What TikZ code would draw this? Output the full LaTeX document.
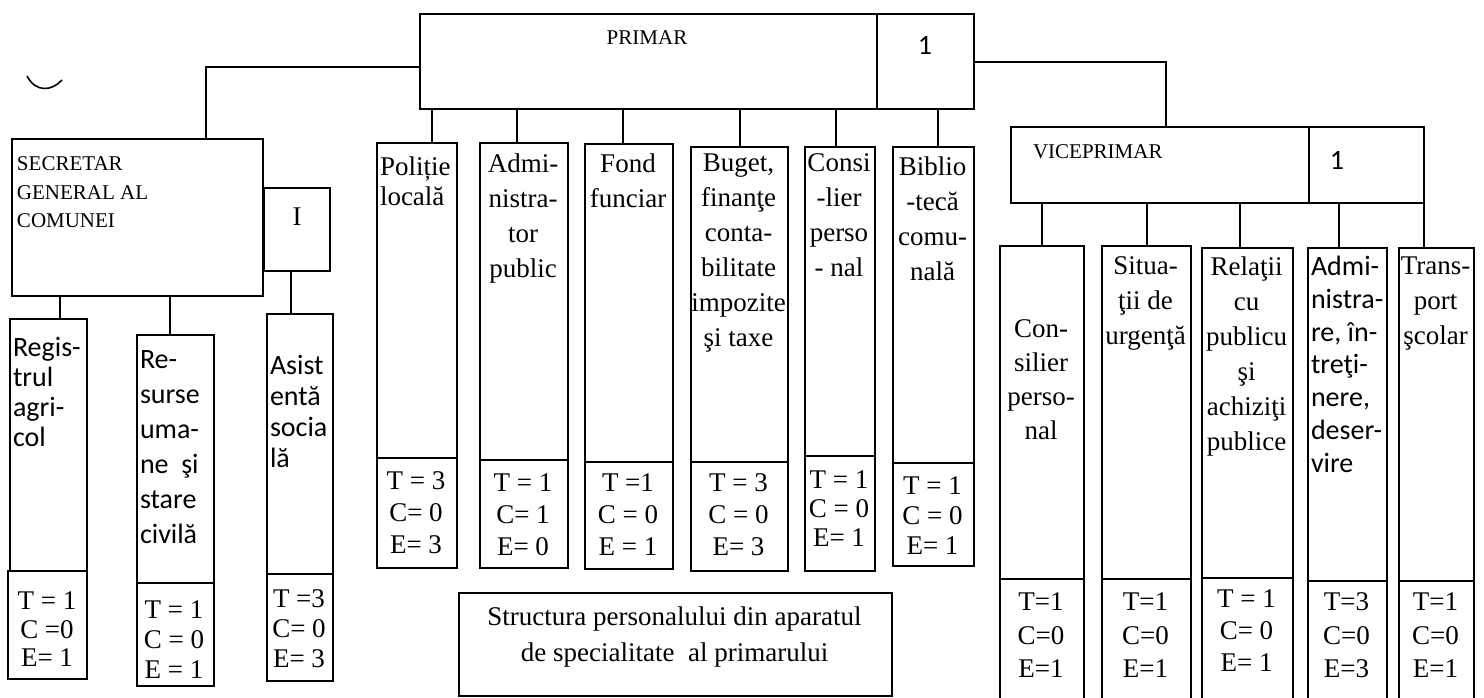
\documentclass[tikz,border=0pt]{standalone}
\usepackage{fontspec}
\setmainfont{Liberation Serif}
\newfontfamily\calib{Carlito}
\usetikzlibrary{positioning}

\begin{document}
\begin{tikzpicture}[
      x=0.5pt,y=-0.5pt,line width=1pt,
      every node/.style={inner sep=0pt},
      box/.style 2 args={draw,anchor=north west,minimum width=#1*0.5pt,minimum height=#2*0.5pt},
      txt/.style={anchor=north,align=center,execute at begin node=\strut},
      ltxt/.style={anchor=north west,align=left,execute at begin node=\strut},
      fs/.style={font=\fontsize{13.5}{#1}\selectfont},
      ss/.style={font=\calib\fontsize{14}{#1}\selectfont},
      hd/.style={font=\fontsize{10.5}{#1}\selectfont},
      ]

      \useasboundingbox (0,0) rectangle (1484,697);
      \clip (0,0) rectangle (1484,697);

      % head boxes
      \node[box={457}{95}] (primar) at (419,13) {};
      \node[box={97}{95}] (primar_1) at (876,13) {};
      \node[hd=12] (primar_t) at (647,38) {PRIMAR};
      \node[font=\calib\fontsize{14}{16}\selectfont] (primar_1t) at (925,45) {1};

      \node[box={298}{76}] (vice) at (1010,126) {};
      \node[box={115}{76}] (vice_1) at (1308,126) {};
      \node[hd=12,anchor=west] (vice_t) at (1032,152) {VICEPRIMAR};
      \node[font=\calib\fontsize{14}{16}\selectfont] (vice_1t) at (1337,160) {1};

      \node[box={251}{157}] (secr) at (11,138) {};
      \node[box={66}{83}] (secr_1) at (263,187) {};
      \node[ltxt,hd=14.25] (secr_t) at (16,156) {SECRETAR\\GENERAL AL\\COMUNEI};
      \node[fs=14] (secr_1t) at (297,217) {I};

      % secretar
      \node[box={77}{252}] (regis) at (9,318) {};
      \node[box={79}{108}] (regis_n) at (7,570) {};
      \node[ltxt,ss=15] (regis_t) at (12,336) {Regis-\\trul\\agri-\\col};
      \node[txt,fs=14.25] (regis_v) at (47,591) {T = 1\\C =0\\E= 1};

      \node[box={77}{248}] (resurse) at (136,334) {};
      \node[box={77}{103}] (resurse_n) at (136,582) {};
      \node[ltxt,ss=17.5] (resurse_t) at (139,350) {Re-\\surse\\uma-\\ne\ \ şi\\stare\\civilă};
      \node[txt,fs=15] (resurse_v) at (174,600) {T = 1\\C = 0\\E = 1};

      \node[box={66}{260}] (asist) at (266,313) {};
      \node[box={66}{107}] (asist_n) at (266,573) {};
      \node[ltxt,ss=15.5] (asist_t) at (269,354) {Asist\\entă\\socia\\lă};
      \node[txt,fs=15] (asist_v) at (299,589) {T =3\\C= 0\\E= 3};

      % primar
      \node[box={80}{315}] (pol) at (376,142) {};
      \node[box={80}{110}] (pol_n) at (376,457) {};
      \node[ltxt,fs=15] (pol_t) at (379,156) {Poliție\\locală};
      \node[txt,fs=16] (pol_v) at (416,471) {T = 3\\C= 0\\E= 3};

      \node[box={88}{317}] (adm) at (479,142) {};
      \node[box={88}{108}] (adm_n) at (479,459) {};
      \node[txt,fs=17.5] (adm_t) at (523,152.5) {Admi-\\nistra-\\tor\\public};
      \node[txt,fs=16] (adm_v) at (523,473) {T = 1\\C= 1\\E= 0};

      \node[box={88}{318}] (fond) at (584,143) {};
      \node[box={88}{107}] (fond_n) at (584,461) {};
      \node[txt,fs=17.5] (fond_t) at (628,152.5) {Fond\\funciar};
      \node[txt,fs=16] (fond_v) at (628,473) {T =1\\C = 0\\E = 1};

      \node[box={97}{315}] (buget) at (690,146) {};
      \node[box={97}{109}] (buget_n) at (690,461) {};
      \node[txt,fs=17.5] (buget_t) at (738.5,152.5) {Buget,\\finanţe\\conta-\\bilitate\\impozite\\şi taxe};
      \node[txt,fs=16] (buget_v) at (738.5,473) {T = 3\\C = 0\\E= 3};

      \node[box={70}{309}] (consi) at (804,146) {};
      \node[box={70}{115}] (consi_n) at (804,455) {};
      \node[txt,fs=17.5] (consi_t) at (839,152.5) {Consi\\-lier\\perso\\- nal};
      \node[txt,fs=14.5] (consi_v) at (839,470) {T = 1\\C = 0\\E= 1};

      \node[box={81}{316}] (biblio) at (892,146) {};
      \node[box={81}{103}] (biblio_n) at (892,462) {};
      \node[txt,fs=17.5] (biblio_t) at (932.5,155.5) {Biblio\\-tecă\\comu-\\nală};
      \node[txt,fs=15] (biblio_v) at (932.5,476) {T = 1\\C = 0\\E= 1};

      \node[box={433}{103}] (struct) at (458,592) {};
      \node[txt,fs=18] (struct_t) at (674.5,606) {Structura personalului din aparatul\\de specialitate\ \ al primarului};

      % viceprimar
      \node[box={84}{333}] (con) at (999,245) {};
      \node[box={84}{130}] (con_n) at (999,578) {};
      \node[txt,fs=17] (con_t) at (1041,319) {Con-\\silier\\perso-\\nal};
      \node[txt,fs=16.75] (con_v) at (1041,592) {T=1\\C=0\\E=1};

      \node[box={89}{333}] (situa) at (1101,245) {};
      \node[box={89}{130}] (situa_n) at (1101,578) {};
      \node[txt,fs=17.5] (situa_t) at (1145.5,256) {Situa-\\ţii de\\urgenţă};
      \node[txt,fs=16.75] (situa_v) at (1145.5,592) {T=1\\C=0\\E=1};

      \node[box={91}{330}] (relatii) at (1201,247) {};
      \node[box={91}{131}] (relatii_n) at (1201,577) {};
      \node[txt,fs=17.5] (relatii_t) at (1246.5,256) {Relaţii\\cu\\publicu\\şi\\achiziţi\\publice};
      \node[txt,fs=16] (relatii_v) at (1246.5,589) {T = 1\\C= 0\\E= 1};

      \node[box={79}{333}] (admi) at (1307,247) {};
      \node[box={79}{128}] (admi_n) at (1307,580) {};
      \node[ltxt,ss=16.4] (admi_t) at (1310,255) {Admi-\\nistra-\\re, în-\\treţi-\\nere,\\deser-\\vire};
      \node[txt,fs=16.75] (admi_v) at (1346.5,592) {T=3\\C=0\\E=3};

      \node[box={75}{333}] (trans) at (1398,247) {};
      \node[box={75}{128}] (trans_n) at (1398,580) {};
      \node[txt,fs=17.5] (trans_t) at (1435.5,256) {Trans-\\port\\şcolar};
      \node[txt,fs=16.75] (trans_v) at (1435.5,592) {T=1\\C=0\\E=1};

      % connectors
      \draw ([yshift=-2.5pt]primar.west) -| ([xshift=34.25pt]secr.north);
      \draw (primar_1.east) -| ([xshift=3pt]vice.north);
      \draw ([xshift=5.75pt]regis.north) -- ([xshift=5.75pt]regis.north |- secr.south);
      \draw ([xshift=-2.75pt]resurse.north) -- ([xshift=-2.75pt]resurse.north |- secr.south);
      \draw ([xshift=-4.5pt]asist.north) -- ([xshift=-4.5pt]asist.north |- secr_1.south);
      \foreach \b/\s in {pol/7.5pt,adm/-3.5pt,fond/-3pt,buget/0pt,consi/-2pt,biblio/2.25pt}
        \draw ([xshift=\s]\b.north) -- ([xshift=\s]\b.north |- primar.south);
      \foreach \b/\s in {con/0pt,situa/0pt,relatii/-3.75pt,admi/-4.25pt,trans/-6.25pt}
        \draw ([xshift=\s]\b.north) -- ([xshift=\s]\b.north |- vice.south);

      \draw[line width=0.8pt] (27,76) .. controls (36,93) and (52,91) .. (62,80);
    \end{tikzpicture}
\end{document}
